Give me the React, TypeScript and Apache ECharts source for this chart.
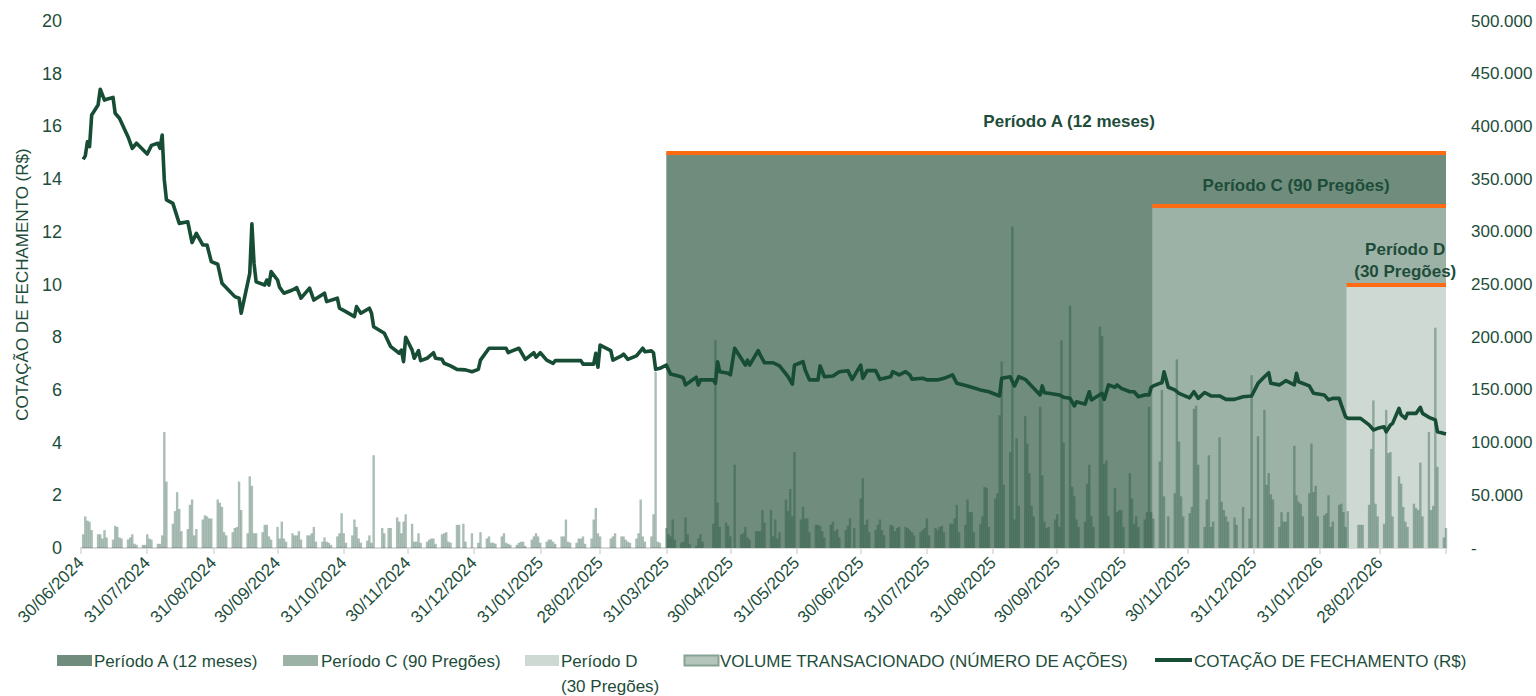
import React, { useEffect, useRef } from 'react';
import * as echarts from 'echarts';

// ---------- axis range & ticks ----------
const axisStart = '2024-06-30';
const axisEnd = '2026-03-31';
const monthEndTicks = [
  '2024-06-30', '2024-07-31', '2024-08-31', '2024-09-30', '2024-10-31', '2024-11-30',
  '2024-12-31', '2025-01-31', '2025-02-28', '2025-03-31', '2025-04-30', '2025-05-31',
  '2025-06-30', '2025-07-31', '2025-08-31', '2025-09-30', '2025-10-31', '2025-11-30',
  '2025-12-31', '2026-01-31', '2026-02-28', '2026-03-31',
];
const labeledTicks = monthEndTicks.slice(0, -1);
const priceTicks = { min: 0, max: 20, interval: 2 };
const volumeTicks = { min: 0, max: 500, interval: 50 }; // thousands of shares

// ---------- closing price (R$) ----------
const price2024: [string, number][] = [
  ['2024-07-01', 14.75], ['2024-07-02', 14.88], ['2024-07-03', 15.42], ['2024-07-04', 15.23],
  ['2024-07-05', 16.43], ['2024-07-08', 16.81], ['2024-07-09', 17.41], ['2024-07-11', 17.0],
  ['2024-07-12', 17.03], ['2024-07-15', 17.1], ['2024-07-16', 16.5], ['2024-07-18', 16.31],
  ['2024-07-22', 15.61], ['2024-07-24', 15.17], ['2024-07-26', 15.36], ['2024-07-31', 14.95],
  ['2024-08-02', 15.28], ['2024-08-05', 15.36], ['2024-08-06', 15.17], ['2024-08-07', 15.67],
  ['2024-08-08', 13.97], ['2024-08-09', 13.21], ['2024-08-12', 13.08], ['2024-08-15', 12.32],
  ['2024-08-19', 12.38], ['2024-08-21', 11.59], ['2024-08-23', 11.94], ['2024-08-26', 11.5],
  ['2024-08-28', 11.5], ['2024-08-30', 10.87], ['2024-09-02', 10.77], ['2024-09-04', 10.05],
  ['2024-09-10', 9.54], ['2024-09-12', 9.48], ['2024-09-13', 8.91], ['2024-09-17', 10.42],
  ['2024-09-18', 12.3], ['2024-09-19', 10.8], ['2024-09-20', 10.1], ['2024-09-24', 9.98],
  ['2024-09-25', 10.17], ['2024-09-26', 9.98], ['2024-09-27', 10.49], ['2024-09-30', 10.17],
  ['2024-10-01', 9.89], ['2024-10-03', 9.67], ['2024-10-07', 9.79], ['2024-10-09', 9.88],
  ['2024-10-11', 9.48], ['2024-10-15', 9.86], ['2024-10-17', 9.41], ['2024-10-22', 9.67],
  ['2024-10-23', 9.35], ['2024-10-28', 9.48], ['2024-10-29', 9.1], ['2024-11-01', 8.97],
  ['2024-11-05', 8.78], ['2024-11-06', 9.16], ['2024-11-08', 8.91], ['2024-11-12', 9.1],
  ['2024-11-13', 8.91], ['2024-11-14', 8.4], ['2024-11-19', 8.15], ['2024-11-22', 7.64],
  ['2024-11-26', 7.39], ['2024-11-27', 7.51], ['2024-11-28', 7.07], ['2024-11-29', 8.0],
  ['2024-12-02', 7.51], ['2024-12-03', 7.2], ['2024-12-05', 7.49], ['2024-12-06', 7.11],
  ['2024-12-09', 7.2], ['2024-12-12', 7.41], ['2024-12-13', 7.2], ['2024-12-16', 7.16],
  ['2024-12-17', 7.01], ['2024-12-20', 6.91], ['2024-12-23', 6.78], ['2024-12-27', 6.76],
  ['2024-12-30', 6.69],
];
const price2025: [string, number][] = [
  ['2025-01-02', 6.78], ['2025-01-03', 7.13], ['2025-01-07', 7.58], ['2025-01-15', 7.58],
  ['2025-01-16', 7.41], ['2025-01-17', 7.45], ['2025-01-21', 7.58], ['2025-01-24', 7.16],
  ['2025-01-28', 7.41], ['2025-01-29', 7.24], ['2025-01-31', 7.41], ['2025-02-03', 7.13],
  ['2025-02-06', 7.01], ['2025-02-07', 7.11], ['2025-02-19', 7.11], ['2025-02-20', 6.98],
  ['2025-02-25', 6.98], ['2025-02-26', 7.39], ['2025-02-27', 6.86], ['2025-02-28', 7.7],
  ['2025-03-05', 7.49], ['2025-03-06', 7.13], ['2025-03-10', 7.29], ['2025-03-11', 7.36],
  ['2025-03-13', 7.16], ['2025-03-17', 7.29], ['2025-03-20', 7.58], ['2025-03-21', 7.45],
  ['2025-03-24', 7.48], ['2025-03-25', 7.41], ['2025-03-26', 6.78], ['2025-03-28', 6.82],
  ['2025-03-31', 6.94], ['2025-04-02', 6.6], ['2025-04-07', 6.5], ['2025-04-08', 6.44],
  ['2025-04-09', 6.19], ['2025-04-14', 6.48], ['2025-04-15', 6.19], ['2025-04-16', 6.38],
  ['2025-04-22', 6.38], ['2025-04-23', 6.25], ['2025-04-24', 7.07], ['2025-04-25', 6.69],
  ['2025-04-29', 6.63], ['2025-04-30', 6.57], ['2025-05-02', 7.58], ['2025-05-05', 7.2],
  ['2025-05-07', 6.94], ['2025-05-08', 7.13], ['2025-05-09', 6.94], ['2025-05-13', 7.49],
  ['2025-05-14', 7.32], ['2025-05-16', 7.03], ['2025-05-20', 7.03], ['2025-05-23', 6.91],
  ['2025-05-27', 6.5], ['2025-05-29', 6.22], ['2025-05-30', 6.94], ['2025-06-03', 7.07],
  ['2025-06-04', 6.76], ['2025-06-06', 6.38], ['2025-06-10', 6.38], ['2025-06-11', 6.91],
  ['2025-06-13', 6.5], ['2025-06-17', 6.53], ['2025-06-20', 6.69], ['2025-06-24', 6.73],
  ['2025-06-26', 6.4], ['2025-06-30', 6.94], ['2025-07-01', 6.44], ['2025-07-03', 6.73],
  ['2025-07-07', 6.73], ['2025-07-09', 6.4], ['2025-07-14', 6.5], ['2025-07-15', 6.69],
  ['2025-07-18', 6.57], ['2025-07-21', 6.69], ['2025-07-23', 6.57], ['2025-07-24', 6.41],
  ['2025-07-29', 6.44], ['2025-07-31', 6.38], ['2025-08-05', 6.38], ['2025-08-08', 6.44],
  ['2025-08-12', 6.57], ['2025-08-14', 6.25], ['2025-08-19', 6.15], ['2025-08-25', 6.0],
  ['2025-08-29', 5.93], ['2025-09-03', 5.77], ['2025-09-04', 6.44], ['2025-09-08', 6.5],
  ['2025-09-10', 6.15], ['2025-09-12', 6.5], ['2025-09-15', 6.4], ['2025-09-18', 6.15],
  ['2025-09-22', 5.81], ['2025-09-23', 6.15], ['2025-09-24', 5.89], ['2025-09-26', 5.87],
  ['2025-10-01', 5.81], ['2025-10-03', 5.72], ['2025-10-06', 5.68], ['2025-10-08', 5.39],
  ['2025-10-09', 5.55], ['2025-10-13', 5.46], ['2025-10-15', 5.93], ['2025-10-16', 5.62],
  ['2025-10-21', 5.87], ['2025-10-22', 5.64], ['2025-10-24', 6.19], ['2025-10-27', 6.1],
  ['2025-10-28', 6.19], ['2025-10-30', 6.06], ['2025-11-03', 5.93], ['2025-11-05', 5.93],
  ['2025-11-07', 5.74], ['2025-11-10', 5.81], ['2025-11-12', 5.81], ['2025-11-13', 6.1],
  ['2025-11-14', 6.15], ['2025-11-17', 6.25], ['2025-11-18', 6.27], ['2025-11-19', 6.69],
  ['2025-11-21', 6.1], ['2025-11-24', 6.0], ['2025-11-26', 5.87], ['2025-12-01', 5.7],
  ['2025-12-03', 5.93], ['2025-12-05', 5.68], ['2025-12-08', 5.9], ['2025-12-11', 5.77],
  ['2025-12-15', 5.77], ['2025-12-18', 5.64], ['2025-12-22', 5.64], ['2025-12-26', 5.74],
  ['2025-12-30', 5.77],
];
const price2026: [string, number][] = [
  ['2026-01-02', 6.25], ['2026-01-05', 6.5], ['2026-01-07', 6.65], ['2026-01-08', 6.25],
  ['2026-01-12', 6.19], ['2026-01-15', 6.35], ['2026-01-19', 6.19], ['2026-01-20', 6.63],
  ['2026-01-21', 6.31], ['2026-01-26', 6.15], ['2026-01-28', 5.87], ['2026-02-02', 5.81],
  ['2026-02-04', 5.62], ['2026-02-06', 5.68], ['2026-02-09', 5.68], ['2026-02-10', 5.43],
  ['2026-02-12', 4.98], ['2026-02-13', 4.92], ['2026-02-19', 4.92], ['2026-02-23', 4.67],
  ['2026-02-25', 4.48], ['2026-02-27', 4.54], ['2026-03-02', 4.6], ['2026-03-03', 4.41],
  ['2026-03-05', 4.67], ['2026-03-06', 4.73], ['2026-03-09', 5.3], ['2026-03-10', 5.05],
  ['2026-03-12', 4.92], ['2026-03-13', 5.11], ['2026-03-17', 5.11], ['2026-03-19', 5.34],
  ['2026-03-20', 5.11], ['2026-03-23', 4.96], ['2026-03-26', 4.86], ['2026-03-27', 4.41],
  ['2026-03-31', 4.33],
];

// ---------- traded volume (thousands of shares), one row per week Mon..Fri ----------
const volumeFirstMonday = '2024-07-01';
const weeklyVolume: number[][] = [
  [13, 30, 26, 25, 17], [13, 13, 9, 17, 10], [8, 21, 20, 10, 9], [8, 10, 13, 4, 3],
  [3, 3, 13, 9, 8], [4, 4, 12, 110, 63], [23, 35, 53, 37, 16], [18, 41, 46, 12, 18],
  [27, 31, 30, 28, 28], [46, 43, 39, 15, 12], [15, 19, 20, 63, 36], [14, 68, 59, 14, 14],
  [15, 22, 22, 11, 8], [20, 9, 25, 9, 6], [14, 12, 12, 16, 8], [12, 12, 14, 20, 6],
  [6, 10, 6, 5, 3], [11, 14, 33, 14, 5], [12, 27, 20, 9, 5], [7, 12, 5, 88, 0],
  [19, 14, 0, 19, 19], [29, 25, 14, 25, 32], [23, 6, 6, 14, 5], [6, 8, 9, 9, 4],
  [13, 14, 15, 6, 5], [22, 22, 0, 23, 6], [14, 0, 0, 5, 15], [9, 11, 5, 5, 4],
  [11, 14, 5, 4, 3], [3, 5, 6, 6, 2], [8, 11, 14, 11, 5], [6, 8, 8, 6, 4],
  [11, 11, 27, 6, 5], [5, 9, 9, 11, 4], [9, 27, 38, 14, 11], [0, 0, 9, 11, 14],
  [11, 11, 8, 6, 5], [9, 14, 46, 11, 6], [11, 32, 167, 6, 5], [19, 13, 11, 27, 8],
  [5, 6, 29, 13, 4], [2, 9, 13, 6, 0], [0, 23, 197, 43, 20], [24, 21, 11, 0, 79],
  [13, 14, 20, 10, 8], [16, 16, 16, 36, 24], [36, 11, 27, 9, 15], [46, 35, 56, 30, 91],
  [27, 39, 28, 28, 15], [22, 22, 21, 16, 10], [22, 25, 16, 18, 10], [17, 21, 28, 0, 19],
  [47, 66, 22, 27, 15], [17, 22, 27, 17, 12], [22, 21, 16, 19, 20], [20, 19, 17, 15, 12],
  [15, 17, 19, 28, 12], [19, 17, 20, 21, 15], [23, 23, 28, 41, 15], [22, 46, 34, 34, 15],
  [23, 30, 58, 57, 20], [47, 52, 126, 177, 60], [91, 305, 27, 104, 40], [125, 99, 71, 40, 30],
  [134, 69, 25, 19, 20], [27, 32, 20, 197, 100], [230, 58, 49, 27, 20], [25, 61, 79, 30, 20],
  [210, 201, 80, 83, 30], [57, 34, 36, 36, 20], [71, 47, 23, 30, 20], [27, 34, 134, 34, 28],
  [82, 150, 49, 0, 30], [52, 179, 101, 49, 30], [33, 39, 132, 135, 79], [20, 46, 88, 20, 25],
  [105, 44, 36, 30, 25], [29, 22, 0, 0, 39], [28, 164, 0, 0, 106], [131, 60, 71, 51, 46],
  [20, 34, 25, 25, 34], [97, 50, 44, 42, 30], [52, 99, 53, 59, 30], [31, 33, 50, 20, 25],
  [41, 42, 34, 20, 35], [0, 0, 22, 22, 22], [41, 94, 140, 42, 30], [23, 131, 90, 91, 30],
  [68, 61, 39, 25, 20], [42, 38, 36, 81, 30], [110, 36, 40, 209, 77], [10, 19],
];

// ---------- analysis periods ----------
const periodNames = ['Período A (12 meses)', 'Período C (90 Pregões)', 'Período D\n(30 Pregões)'];
const periodStarts = ['2025-03-31 00:00', '2025-11-13 12:00', '2026-02-12 10:00'];
const periodTops = [375, 325, 250]; // on the volume axis (thousands)

const legendNames = [
  'Período A (12 meses)',
  'Período C (90 Pregões)',
  'Período D',
  '(30 Pregões)',
  'VOLUME TRANSACIONADO (NÚMERO DE AÇÕES)',
  'COTAÇÃO DE FECHAMENTO (R$)',
];

// ---------- styling ----------
const FONT = '"Liberation Sans", Arial, sans-serif';
const TEXT = '#1d4d3a';
const LINE = '#174d35';
const ORANGE = '#ff6b12';
const periodColors = ['#6f8c7c', '#9db2a6', '#cfd9d4'];
const AXIS_GRAY = '#d9d9d9';

function toTs(s: string): number {
  const [d, t] = s.split(' ');
  const [y, m, dd] = d.split('-').map(Number);
  let hh = 0;
  let mm = 0;
  if (t) [hh, mm] = t.split(':').map(Number);
  return new Date(y, m - 1, dd, hh, mm).getTime();
}
const pad = (n: number) => (n < 10 ? '0' + n : '' + n);
function fmtDate(v: number): string {
  const d = new Date(v);
  return `${pad(d.getDate())}/${pad(d.getMonth() + 1)}/${d.getFullYear()}`;
}

function buildOption() {
  const priceData = [...price2024, ...price2025, ...price2026].map(([d, v]) => [toTs(d), v]);
  const f = new Date(toTs(volumeFirstMonday));
  const volumeData: [number, number][] = [];
  weeklyVolume.forEach((week, w) => {
    week.forEach((v, i) => {
      if (v > 0) {
        const dt = new Date(f.getFullYear(), f.getMonth(), f.getDate() + w * 7 + i).getTime();
        volumeData.push([dt, v]);
      }
    });
  });
  const endTs = toTs(axisEnd);

  const labelCfg = [
    { distance: 21, offset: [13, 0], lineHeight: 20 },
    { distance: 10, offset: [-3, 0], lineHeight: 20 },
    { distance: 2, offset: [9, 0], lineHeight: 22 },
  ];

  const markAreaData = periodNames.map((name, i) => [
    {
      name,
      xAxis: toTs(periodStarts[i]),
      yAxis: 0,
      itemStyle: { color: periodColors[i] },
      label: {
        show: true,
        position: 'top',
        distance: labelCfg[i].distance,
        offset: labelCfg[i].offset,
        color: TEXT,
        fontWeight: 'bold',
        fontSize: 17,
        fontFamily: FONT,
        lineHeight: labelCfg[i].lineHeight,
        align: 'center',
      },
    },
    { xAxis: endTs, yAxis: periodTops[i] },
  ]);

  const markLineData = periodStarts.map((s, i) => [
    { coord: [toTs(s), periodTops[i]] },
    { coord: [endTs, periodTops[i]] },
  ]);

  const legendY = 661;
  const ts = (x: number, y: number, text: string) => ({
    type: 'text',
    x,
    y,
    style: {
      text,
      fill: TEXT,
      font: `17px ${FONT}`,
      textAlign: 'left',
      textVerticalAlign: 'middle',
    },
  });

  const graphic = [
    { type: 'rect', shape: { x: 57, y: 655, width: 35, height: 11 }, style: { fill: periodColors[0] } },
    ts(94, legendY, legendNames[0]),
    { type: 'rect', shape: { x: 283, y: 655, width: 35, height: 11 }, style: { fill: periodColors[1] } },
    ts(321, legendY, legendNames[1]),
    { type: 'rect', shape: { x: 525, y: 655, width: 34, height: 11 }, style: { fill: periodColors[2] } },
    ts(561, legendY, legendNames[2]),
    ts(561, legendY + 25, legendNames[3]),
    {
      type: 'rect',
      shape: { x: 684.5, y: 655.5, width: 34, height: 10 },
      style: { fill: '#b4c6bc', stroke: '#87a294', lineWidth: 2 },
    },
    ts(720, legendY, legendNames[4]),
    {
      type: 'line',
      shape: { x1: 1155, y1: 660, x2: 1192, y2: 660 },
      style: { stroke: LINE, lineWidth: 4 },
    },
    ts(1194, legendY, legendNames[5]),
  ];

  return {
    animation: false,
    backgroundColor: '#ffffff',
    textStyle: { fontFamily: FONT },
    grid: { left: 81, right: 90, top: 21, bottom: 148 },
    xAxis: {
      type: 'value',
      min: toTs(axisStart),
      max: endTs,
      scale: true,
      axisLine: { show: true, onZero: false, lineStyle: { color: AXIS_GRAY, width: 2 } },
      axisTick: {
        show: true,
        length: 6,
        lineStyle: { color: AXIS_GRAY, width: 1.5 },
        customValues: monthEndTicks.map(toTs),
      },
      axisLabel: {
        show: true,
        rotate: 45,
        margin: 12,
        color: TEXT,
        fontSize: 17,
        fontFamily: FONT,
        customValues: labeledTicks.map(toTs),
        formatter: (v: number) => fmtDate(v),
        hideOverlap: false,
      },
      splitLine: { show: false },
    },
    yAxis: [
      {
        type: 'value',
        position: 'left',
        ...priceTicks,
        name: 'COTAÇÃO DE FECHAMENTO (R$)',
        nameLocation: 'middle',
        nameGap: 37,
        nameTextStyle: { color: TEXT, fontSize: 17, fontFamily: FONT },
        axisLine: { show: false },
        axisTick: { show: false },
        splitLine: { show: false },
        axisLabel: { color: TEXT, fontSize: 18, fontFamily: FONT, margin: 19 },
      },
      {
        type: 'value',
        position: 'right',
        ...volumeTicks,
        axisLine: { show: false },
        axisTick: { show: false },
        splitLine: { show: false },
        axisLabel: {
          color: TEXT,
          fontSize: 17,
          fontFamily: FONT,
          margin: 25,
          formatter: (v: number) => (v === 0 ? '-' : `${v}.000`),
        },
      },
    ],
    series: [
      {
        name: 'VOLUME TRANSACIONADO (NÚMERO DE AÇÕES)',
        type: 'bar',
        xAxisIndex: 0,
        yAxisIndex: 1,
        barWidth: 2.4,
        z: 2,
        itemStyle: { color: 'rgba(26, 80, 56, 0.37)' },
        data: volumeData,
        markArea: { silent: true, z: 1, data: markAreaData },
        markLine: {
          silent: true,
          symbol: ['none', 'none'],
          z: 4,
          label: { show: false },
          lineStyle: { color: ORANGE, width: 4, type: 'solid' },
          data: markLineData,
        },
      },
      {
        name: 'COTAÇÃO DE FECHAMENTO (R$)',
        type: 'line',
        xAxisIndex: 0,
        yAxisIndex: 0,
        z: 5,
        showSymbol: false,
        symbol: 'none',
        lineStyle: { color: LINE, width: 3.6, join: 'round' },
        data: priceData,
      },
    ],
    graphic,
  };
}

export default function App() {
  const ref = useRef<HTMLDivElement>(null);
  useEffect(() => {
    document.body.style.margin = '0';
    const chart = echarts.init(ref.current as HTMLDivElement, null, { renderer: 'svg' });
    chart.setOption(buildOption() as any);
    return () => chart.dispose();
  }, []);
  return <div ref={ref} style={{ width: 1536, height: 696 }} />;
}
